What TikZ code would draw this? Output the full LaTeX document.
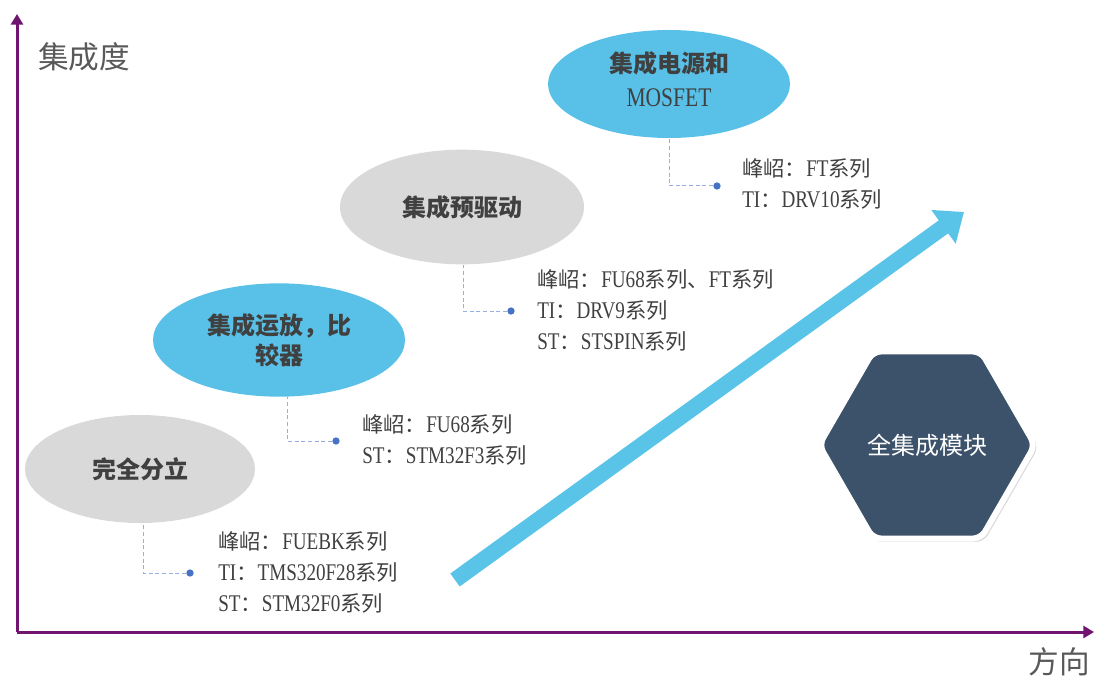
\documentclass[tikz,border=0pt]{standalone}
\usepackage{fontspec}
\setmainfont{Noto Sans CJK SC}
\newfontfamily\lat[FakeStretch=0.8,Scale=1.12]{Liberation Serif}
\usetikzlibrary{shapes.geometric,arrows.meta,shadows}
\definecolor{axispurple}{RGB}{112,20,112}
\definecolor{skyblue}{RGB}{89,193,231}
\definecolor{lgray}{RGB}{217,217,217}
\definecolor{txt}{RGB}{64,64,64}
\definecolor{axtxt}{RGB}{89,89,89}
\definecolor{connc}{RGB}{150,175,222}
\definecolor{dotblue}{RGB}{68,114,196}
\definecolor{hexfill}{RGB}{60,82,106}
\definecolor{arrowblue}{RGB}{89,196,232}
\begin{document}
\begin{tikzpicture}[x=0.75pt,y=-0.75pt,
  axis/.style={line width=2.25pt, draw=axispurple, -{Triangle[length=8pt,width=9pt]}},
  axlabel/.style={text=axtxt, font=\fontsize{23}{26}\selectfont, inner sep=0pt},
  ell/.style={ellipse, inner sep=0pt, text=txt, font=\fontsize{18}{22.5}\selectfont\bfseries, align=center},
  dotnode/.style={circle, fill=dotblue, inner sep=0pt, minimum size=5.5pt},
  conn/.style={draw=connc, line width=0.75pt, dash pattern=on 3pt off 2pt},
  lbl/.style={anchor=west, align=left, text=txt, inner sep=0pt, font=\fontsize{16}{23.25}\selectfont},
  bigarrow/.style={line width=12pt, draw=arrowblue, -{Triangle[length=19pt,width=30pt]}},
  hexnode/.style={regular polygon, regular polygon sides=6, minimum size=162pt, inner sep=0pt,
    fill=hexfill, draw=white, line width=4.5pt, rounded corners=6pt,
    drop shadow={opacity=0.3, shadow xshift=1.5pt, shadow yshift=-1.5pt, shadow scale=1.015},
    text=white, font=\fontsize{18}{22}\selectfont}
]
\useasboundingbox (0,0) rectangle (1094,677);

% axes
\coordinate (o) at (17,632);
\coordinate (ytop) at (17,14);
\coordinate (xend) at (1094,632);
\draw[axis] (o) -- (ytop);
\draw[axis] (o) -- (xend);
\node[axlabel] (ylab) at (84,57) {集成度};
\node[axlabel] (xlab) at (1059,662) {方向};

% big arrow
\coordinate (as) at (455,580);
\coordinate (ae) at (964,212);
\draw[bigarrow] (as) -- (ae);

% ellipses
\node[ell, fill=lgray, minimum width=172.5pt, minimum height=81pt] (n1) at (140,469) {完全分立};
\node[ell, fill=skyblue, minimum width=189pt, minimum height=85pt] (n2) at (279,340) {集成运放，比\\较器};
\node[ell, fill=lgray, minimum width=183pt, minimum height=86pt] (n3) at (462,207) {集成预驱动};
\node[ell, fill=skyblue, minimum width=181.5pt, minimum height=81pt, font=\fontsize{18}{26}\selectfont\bfseries] (n4) at (669,84) {集成电源和\\{\lat\mdseries MOSFET}\rule[-7.5pt]{0pt}{7.5pt}};

% dots and connectors
\node[dotnode] (p1) at (190,573) {};
\node[dotnode] (p2) at (336,441) {};
\node[dotnode] (p3) at (511,311) {};
\node[dotnode] (p4) at (717,186) {};
\draw[conn] (p1) -| ([xshift=2.25pt]n1.south);
\draw[conn] (p2) -| ([xshift=6pt]n2.south);
\draw[conn] (p3) -| ([xshift=0.75pt]n3.south);
\draw[conn] (p4) -| (n4.south);

% labels
\node[lbl] (t1) at (218,572) {峰岹：{\lat FUEBK}系列\\{\lat TI}：{\lat TMS320F28}系列\\{\lat ST}：{\lat STM32F0}系列};
\node[lbl] (t2) at (362,440) {峰岹：{\lat FU68}系列\\{\lat ST}：{\lat STM32F3}系列};
\node[lbl] (t3) at (537,310) {峰岹：{\lat FU68}系列、{\lat FT}系列\\{\lat TI}：{\lat DRV9}系列\\{\lat ST}：{\lat STSPIN}系列};
\node[lbl] (t4) at (742,184) {峰岹：{\lat FT}系列\\{\lat TI}：{\lat DRV10}系列};

% hexagon
\node[hexnode] (hex) at (927,445) {全集成模块};
\end{tikzpicture}
\end{document}
